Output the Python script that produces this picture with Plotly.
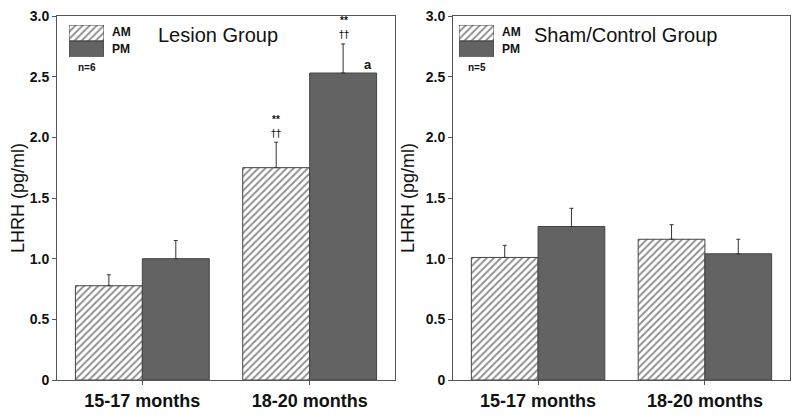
import plotly.graph_objects as go

# ---- data ----
categories = ["15-17 months", "18-20 months"]
lesion_am = [0.777, 1.75]
lesion_am_err = [0.09, 0.21]
lesion_pm = [1.0, 2.53]
lesion_pm_err = [0.15, 0.24]
sham_am = [1.01, 1.16]
sham_am_err = [0.10, 0.12]
sham_pm = [1.265, 1.04]
sham_pm_err = [0.15, 0.12]
y_tickvals = [0, 0.5, 1.0, 1.5, 2.0, 2.5, 3.0]
y_ticktext = ["0", "0.5", "1.0", "1.5", "2.0", "2.5", "3.0"]
panel_titles = ["Lesion Group", "Sham/Control Group"]
n_labels = ["n=6", "n=5"]
series_names = ["AM", "PM"]

W, H = 800, 418
PAGE_OFF = 8  # default body margin of the html page
FONT = "Liberation Sans, Arial, sans-serif"
TXT = "#111111"
LINE = "#555555"
PM_COLOR = "#636363"
HATCH = dict(shape="/", fgcolor="#1e1e1e", bgcolor="white", size=5, solidity=0.38)


def px_x(p):
    return (p - PAGE_OFF) / W


def px_y(p):
    return 1 - (p - PAGE_OFF) / H


fig = go.Figure()

panels = [
    (lesion_am, lesion_am_err, lesion_pm, lesion_pm_err, "x", "y"),
    (sham_am, sham_am_err, sham_pm, sham_pm_err, "x2", "y2"),
]
for am, am_e, pm, pm_e, xa, ya in panels:
    fig.add_trace(go.Bar(
        x=categories, y=am, name=series_names[0], xaxis=xa, yaxis=ya,
        marker=dict(color="white", pattern=HATCH, line=dict(color="#444444", width=1)),
        error_y=dict(type="data", array=am_e, arrayminus=[0] * len(am_e), symmetric=False,
                     color="#333333", thickness=1, width=2),
        showlegend=False,
    ))
    fig.add_trace(go.Bar(
        x=categories, y=pm, name=series_names[1], xaxis=xa, yaxis=ya,
        marker=dict(color=PM_COLOR, line=dict(color="#444444", width=1)),
        error_y=dict(type="data", array=pm_e, arrayminus=[0] * len(pm_e), symmetric=False,
                     color="#333333", thickness=1, width=2),
        showlegend=False,
    ))

# legend swatches drawn as stacked bars on small inset axes
for xa, ya in [("x3", "y3"), ("x4", "y4")]:
    fig.add_trace(go.Bar(x=[0], y=[1], base=[0], width=[1], offset=[-0.5], xaxis=xa, yaxis=ya,
                         marker=dict(color=PM_COLOR, line=dict(color="#444444", width=1)),
                         showlegend=False, hoverinfo="skip"))
    fig.add_trace(go.Bar(x=[0], y=[1], base=[1], width=[1], offset=[-0.5], xaxis=xa, yaxis=ya,
                         marker=dict(color="white", pattern=HATCH, line=dict(color="#444444", width=1)),
                         showlegend=False, hoverinfo="skip"))

ydom = [px_y(380), px_y(16)]
common_x = dict(
    type="category", range=[-0.51, 1.51], showline=True, linecolor=LINE, linewidth=1, mirror=True,
    ticks="outside", ticklen=4, tickcolor=LINE, showgrid=False, zeroline=False,
    tickfont=dict(family=FONT, size=18, color=TXT, weight="bold"), automargin=False,
    ticklabeloverflow="allow",
)
common_y = dict(
    range=[0, 3], tickvals=y_tickvals, ticktext=y_ticktext, showline=True, linecolor=LINE,
    linewidth=1, mirror=True, ticks="outside", ticklen=4, tickcolor=LINE, showgrid=False,
    zeroline=False, tickfont=dict(family=FONT, size=14, color=TXT, weight="bold"),
    title=dict(text="LHRH (pg/ml)", font=dict(family=FONT, size=18, color=TXT), standoff=6),
    automargin=False, ticklabeloverflow="allow",
)
hidden = dict(visible=False, showgrid=False, zeroline=False, fixedrange=True)

fig.update_layout(
    width=W, height=H, margin=dict(l=0, r=0, t=0, b=0),
    paper_bgcolor="white", plot_bgcolor="white",
    barmode="group", bargap=0.2, bargroupgap=0,
    font=dict(family=FONT, color=TXT),
    xaxis=dict(common_x, domain=[px_x(57), px_x(395)], anchor="y"),
    yaxis=dict(common_y, domain=ydom, anchor="x"),
    xaxis2=dict(common_x, domain=[px_x(453), px_x(790)], anchor="y2"),
    yaxis2=dict(common_y, domain=ydom, anchor="x2"),
    xaxis3=dict(hidden, domain=[px_x(69), px_x(104)], range=[-0.5, 0.5], anchor="y3"),
    yaxis3=dict(hidden, domain=[px_y(56.7), px_y(25)], range=[0, 2], anchor="x3"),
    xaxis4=dict(hidden, domain=[px_x(459), px_x(494)], range=[-0.5, 0.5], anchor="y4"),
    yaxis4=dict(hidden, domain=[px_y(56.7), px_y(25)], range=[0, 2], anchor="x4"),
    showlegend=False,
)

ann = []
# panel titles
for t, cx in zip(panel_titles, [218, 625]):
    ann.append(dict(text=t, x=px_x(cx), y=px_y(35), xref="paper", yref="paper",
                    xanchor="center", yanchor="middle",
                    showarrow=False, font=dict(family=FONT, size=20, color=TXT)))
# legend labels
for lx in [110, 500]:
    ann.append(dict(text="<b>AM</b>", x=px_x(lx), y=px_y(32), xref="paper", yref="paper",
                    xanchor="left", yanchor="middle", showarrow=False,
                    font=dict(family=FONT, size=12, color=TXT)))
    ann.append(dict(text="<b>PM</b>", x=px_x(lx), y=px_y(49), xref="paper", yref="paper",
                    xanchor="left", yanchor="middle", showarrow=False,
                    font=dict(family=FONT, size=12, color=TXT)))
for t, cx in zip(n_labels, [87, 477]):
    ann.append(dict(text="<b>" + t + "</b>", x=px_x(cx), y=px_y(68), xref="paper", yref="paper",
                    xanchor="center", yanchor="middle",
                    showarrow=False, font=dict(family=FONT, size=10, color=TXT)))
# significance marks (lesion group, 18-20 months)
cat = categories[1]
am_top = lesion_am[1] + lesion_am_err[1]
pm_top = lesion_pm[1] + lesion_pm_err[1]
for top, shift in [(am_top, -34), (pm_top, 34)]:
    ann.append(dict(text="<b>**</b>", x=cat, y=top + 0.19, xref="x", yref="y", xshift=shift,
                    showarrow=False, font=dict(family=FONT, size=10, color=TXT)))
    ann.append(dict(text="††", x=cat, y=top + 0.075, xref="x", yref="y", xshift=shift,
                    showarrow=False, font=dict(family="DejaVu Sans", size=10, color=TXT)))
ann.append(dict(text="<b>a</b>", x=cat, y=lesion_pm[1] + 0.07, xref="x", yref="y", xshift=58,
                showarrow=False, font=dict(family=FONT, size=13, color=TXT)))
fig.update_layout(annotations=ann)

fig.write_html("out.html")
